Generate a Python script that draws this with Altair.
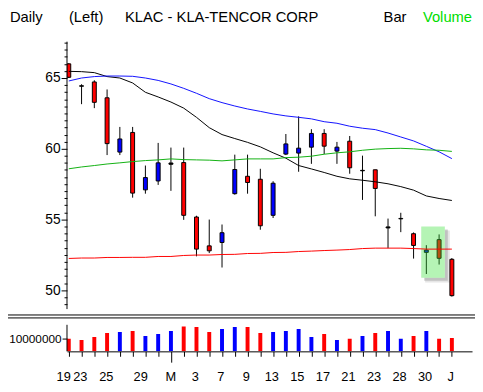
import altair as alt
import pandas as pd
import numpy as np

# ---------------- data ----------------
idx = list(range(31))
opens = [66.00, 64.45, 64.72, 63.60, 59.76, 61.15, 57.09, 57.72, 58.90, 59.02,
         55.17, 53.13, 53.37, 56.82, 58.05, 57.84, 55.29, 59.62, 59.69, 60.11,
         61.08, 59.83, 60.53, 58.44, 58.51, 54.40, 55.04, 53.99, 52.67, 53.57, 52.18]
highs = [66.05, 64.56, 64.84, 64.19, 61.54, 61.54, 58.81, 60.41, 60.08, 60.08,
         55.26, 54.99, 54.64, 59.58, 59.58, 58.58, 57.70, 61.04, 62.29, 61.38,
         61.38, 60.48, 60.90, 59.51, 58.51, 55.06, 55.47, 54.08, 53.18, 53.94, 52.27]
lows = [65.00, 63.15, 62.87, 59.55, 59.55, 56.54, 56.82, 57.44, 57.02, 54.97,
        52.39, 52.62, 51.60, 56.75, 56.82, 54.27, 55.10, 59.55, 58.37, 58.93,
        59.62, 58.93, 58.23, 56.38, 55.22, 52.97, 54.10, 52.23, 51.14, 51.81, 49.54]
closes = [65.05, 64.42, 63.28, 60.36, 60.69, 56.86, 57.96, 59.00, 58.99, 55.29,
          52.90, 52.78, 54.06, 58.53, 57.61, 54.55, 57.56, 60.34, 60.04, 61.08,
          60.18, 60.11, 58.65, 58.47, 57.19, 54.47, 55.07, 53.16, 52.83, 52.25, 49.61]
volume = [9.8e6, 8.8e6, 11.3e6, 14.4e6, 15.2e6, 16.0e6, 12.1e6, 13.6e6, 16.0e6, 19.5e6,
          19.0e6, 15.2e6, 17.5e6, 19.0e6, 19.0e6, 14.4e6, 15.2e6, 16.0e6, 17.5e6, 11.3e6,
          13.6e6, 8.8e6, 9.8e6, 12.1e6, 14.4e6, 16.0e6, 9.8e6, 12.1e6, 16.0e6, 9.8e6, 10.5e6]
ma_black = [65.47, 65.45, 65.38, 65.10, 65.00, 64.65, 63.99, 63.66, 63.30, 62.87,
            62.22, 61.49, 61.00, 60.72, 60.45, 60.13, 59.71, 59.33, 58.81, 58.57,
            58.32, 58.05, 57.87, 57.77, 57.66, 57.52, 57.32, 57.07, 56.66, 56.48, 56.34]
ma_blue = [64.79, 65.00, 65.10, 65.14, 65.14, 65.12, 65.00, 64.83, 64.58, 64.27,
           63.92, 63.54, 63.26, 63.02, 62.81, 62.64, 62.46, 62.32, 62.22, 62.11,
           61.91, 61.80, 61.59, 61.45, 61.35, 61.11, 60.83, 60.55, 60.17, 59.78, 59.30]
ma_green = [58.58, 58.71, 58.81, 58.92, 59.00, 59.09, 59.16, 59.21, 59.28, 59.23,
            59.21, 59.19, 59.14, 59.21, 59.28, 59.28, 59.28, 59.37, 59.40, 59.47,
            59.61, 59.71, 59.78, 59.89, 59.97, 60.01, 60.03, 59.99, 59.92, 59.89, 59.81]
ma_red = [52.24, 52.27, 52.27, 52.31, 52.31, 52.32, 52.32, 52.38, 52.38, 52.45,
          52.48, 52.48, 52.52, 52.53, 52.59, 52.60, 52.66, 52.67, 52.73, 52.76,
          52.80, 52.83, 52.87, 52.94, 52.97, 52.97, 52.97, 52.94, 52.90, 52.90, 52.90]
label_text = ["19", "23", "25", "29", "M", "3", "7", "9", "13", "15", "17", "21", "23", "28", "30", "J"]
label_pos = [-0.4, 0.9, 2.94, 5.63, 8, 9.9, 11.9, 13.9, 15.9, 17.9, 19.9, 21.9, 23.9, 25.9, 27.9, 29.9]
header_texts = ["Daily", "(Left)", "KLAC - KLA-TENCOR CORP", "Bar", "Volume"]
header_colors = ["black", "black", "black", "black", "#00dd00"]
box_x = [27.6, 29.45]
box_y = [54.5, 50.88]
price_range = [48.66, 67.57]      # visible price panel
volume_range = [0, 20.77e6]       # visible volume panel

RED, BLUE = "#ff0000", "#0000ff"

df = pd.DataFrame({"i": idx, "o": opens, "h": highs, "l": lows, "c": closes, "v": volume})
df["dir"] = np.where(df["c"] >= df["o"], BLUE, RED)
df["body"] = np.where((df["c"] - df["o"]).abs() < 0.1, "black", df["dir"])

ma = pd.DataFrame({"i": idx, "black": ma_black, "blue": ma_blue, "green": ma_green, "red": ma_red})
labels = pd.DataFrame({"pos": label_pos, "t": label_text})
box = pd.DataFrame({"x0": [box_x[0]], "x1": [box_x[1]], "y0": [box_y[0]], "y1": [box_y[1]]})
one = pd.DataFrame({"a": [0]})
paxis_df = pd.DataFrame({"y0": [price_range[1]], "y1": [price_range[0]]})
vaxis_df = pd.DataFrame({"y0": [volume_range[0]], "y1": [volume_range[1]]})

FONT = "Liberation Sans"

# ---- geometry: one plot area spanning both panels ----
W = 412
PRICE_H = 272     # price panel height
GAP = 16          # gap between panels
VOL_H = 27        # volume panel height
H = PRICE_H + GAP + VOL_H

ppx = PRICE_H / (price_range[1] - price_range[0])
pscale = alt.Scale(domain=[price_range[0] - (GAP + VOL_H) / ppx, price_range[1]], nice=False, zero=False, padding=0)
vpx = VOL_H / (volume_range[1] - volume_range[0])
vscale = alt.Scale(domain=[0, H / vpx], nice=False, zero=False, padding=0)
xscale = alt.Scale(domain=[-0.14, 31.58], nice=False, zero=False, padding=0)

m_idx = label_pos[label_text.index("M")]
xaxis = alt.Axis(
    values=idx, labels=False, title=None, grid=False,
    tickSize={"condition": {"test": f"datum.value === {m_idx}", "value": 11}, "value": 5},
    domainColor="black", tickColor="black",
)
price_axis = alt.Axis(
    values=[float(v) for v in np.arange(49, 67.51, 0.5)],
    labelExpr="datum.value % 5 === 0 ? format(datum.value, 'd') : ''",
    tickSize={"condition": {"test": "datum.value % 5 === 0", "value": 6}, "value": 3},
    title=None, grid=False, domain=False, orient="left",
    labelFont=FONT, labelFontSize=14, labelPadding=1,
    labelColor="black", tickColor="black",
)
vol_axis = alt.Axis(values=[10000000], format="d", title=None, grid=False, domain=False, orient="left",
                    tickSize=5, labelFont=FONT, labelFontSize=12, labelPadding=1,
                    labelColor="black", tickColor="black")


def px(field):
    return alt.X(field, type="quantitative", scale=xscale, axis=xaxis)


def py(field):
    return alt.Y(field, type="quantitative", scale=pscale, axis=price_axis)


def vy(field):
    return alt.Y(field, type="quantitative", scale=vscale, axis=vol_axis)


# ---- price layers ----
shadow2 = alt.Chart(box).mark_rect(color="#9a9a9a", opacity=0.25, xOffset=4, x2Offset=5, yOffset=4, y2Offset=5).encode(
    x=px("x0"), x2="x1", y=py("y0"), y2="y1")
shadow = alt.Chart(box).mark_rect(color="#7a7a7a", opacity=0.35, xOffset=3, x2Offset=3, yOffset=3, y2Offset=3).encode(
    x=px("x0"), x2="x1", y=py("y0"), y2="y1")
white = alt.Chart(box).mark_rect(color="white", opacity=1).encode(
    x=px("x0"), x2="x1", y=py("y0"), y2="y1")
wicks = alt.Chart(df).mark_rule(color="black", strokeWidth=1, clip=True).encode(
    x=px("i"), y=py("l"), y2="h")
bodies = alt.Chart(df).mark_bar(width=4, stroke="black", strokeWidth=1, clip=True).encode(
    x=px("i"), y=py("o"), y2="c", fill=alt.Fill("body:N", scale=None))
overlay = alt.Chart(box).mark_rect(color="#33e033", opacity=0.36).encode(
    x=px("x0"), x2="x1", y=py("y0"), y2="y1")


def ma_line(col, color):
    return alt.Chart(ma).mark_line(color=color, strokeWidth=1, clip=True).encode(x=px("i"), y=py(col))


paxis_line = alt.Chart(paxis_df).mark_rule(color="black", strokeWidth=1).encode(
    x=alt.value(0), y=py("y0"), y2="y1")

header_x = [-58, 2, 59, 322, 362]
headers = [
    alt.Chart(one).mark_text(text=t, color=c, font=FONT, fontSize=15, align="left", baseline="alphabetic").encode(
        x=alt.value(hx), y=alt.value(-20))
    for t, c, hx in zip(header_texts, header_colors, header_x)
]

price = alt.layer(
    shadow2, shadow, white, wicks, bodies, overlay,
    ma_line("black", "black"), ma_line("blue", "#1010ff"), ma_line("green", "#10b010"), ma_line("red", "#ff0000"),
    paxis_line,
)

# ---- volume layers ----
vbars = alt.Chart(df).mark_bar(width=4, clip=True).encode(
    x=px("i"), y=vy("v"), color=alt.Color("dir:N", scale=None))
vaxis_line = alt.Chart(vaxis_df).mark_rule(color="black", strokeWidth=1).encode(
    x=alt.value(0), y=vy("y0"), y2="y1")
volume_layer = alt.layer(vbars, vaxis_line)

# ---- decorations & labels (pixel placed) ----
vlabels = alt.Chart(labels).mark_text(font=FONT, fontSize=13, color="black", baseline="middle").encode(
    x=px("pos"), y=alt.value(H + 26), text="t:N")
sep1 = alt.Chart(one).mark_rule(color="black", strokeWidth=1).encode(
    x=alt.value(-60), x2=alt.value(420), y=alt.value(PRICE_H + 6))
sep2 = alt.Chart(one).mark_rule(color="black", strokeWidth=1).encode(
    x=alt.value(-60), x2=alt.value(420), y=alt.value(PRICE_H + 9))

chart = alt.layer(
    price, volume_layer, vlabels, sep1, sep2, *headers
).resolve_scale(y="independent").properties(
    width=W, height=H,
    padding={"left": 60, "top": 31, "right": 3, "bottom": 32},
    autosize=alt.AutoSizeParams(type="none"),
    background="white",
).configure_view(stroke=None)

chart.save("out.html", embed_options={"renderer": "svg", "actions": False})
